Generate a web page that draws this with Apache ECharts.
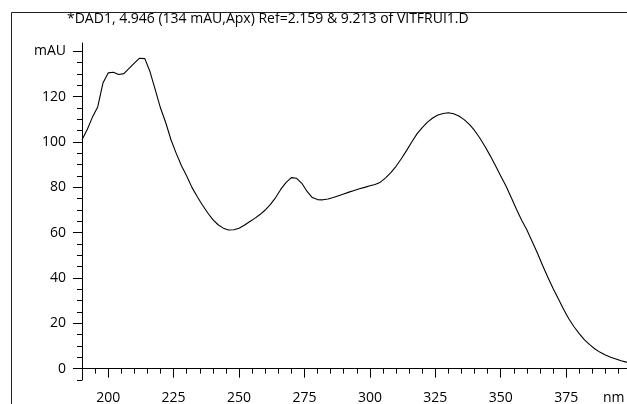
<!DOCTYPE html>
<html>
<head>
<meta charset="utf-8">
<script src="https://cdn.jsdelivr.net/npm/echarts/dist/echarts.min.js"></script>
<style>
  html, body { margin: 0; padding: 0; background: #fff; }
  #chart { width: 627px; height: 404px; }
</style>
</head>
<body>
<div id="chart"></div>
<script>
// UV spectrum at the apex of the 4.946 min peak (DAD1)
const wavelengths = [
  190, 192, 194, 196, 198, 200, 202, 204, 206, 208,
  210, 212, 214, 216, 218, 220, 222, 224, 226, 228,
  230, 232, 234, 236, 238, 240, 242, 244, 246, 248,
  250, 252, 254, 256, 258, 260, 262, 264, 266, 268,
  270, 272, 274, 276, 278, 280, 282, 284, 286, 288,
  290, 292, 294, 296, 298, 300, 302, 304, 306, 308,
  310, 312, 314, 316, 318, 320, 322, 324, 326, 328,
  330, 332, 334, 336, 338, 340, 342, 344, 346, 348,
  350, 352, 354, 356, 358, 360, 362, 364, 366, 368,
  370, 372, 374, 376, 378, 380, 382, 384, 386, 388,
  390, 392, 394, 396, 398, 400
];
const absorbance = [
  101.0, 105.5, 111.0, 115.5, 126.0, 130.5, 130.8, 129.8, 130.2, 132.5,
  134.8, 137.0, 136.8, 131.0, 123.0, 115.0, 108.5, 101.0, 95.0, 89.5,
  85.0, 80.0, 76.0, 72.2, 68.8, 65.8, 63.5, 62.0, 61.2, 61.3,
  62.0, 63.3, 64.8, 66.3, 68.0, 70.0, 72.5, 75.5, 79.2, 82.2,
  84.3, 84.0, 81.8, 78.2, 75.5, 74.6, 74.5, 74.9, 75.5, 76.3,
  77.1, 77.9, 78.6, 79.4, 80.0, 80.7, 81.3, 82.3, 84.2, 86.5,
  89.3, 92.6, 96.2, 100.0, 103.6, 106.4, 108.8, 110.6, 111.9, 112.6,
  112.9, 112.5, 111.5, 109.9, 107.8, 105.1, 101.8, 98.0, 93.9, 89.5,
  85.0, 80.6, 75.5, 70.3, 65.5, 61.2, 56.1, 51.0, 45.5, 40.3,
  35.4, 30.8, 26.2, 22.0, 18.5, 15.5, 12.7, 10.6, 8.7, 7.2,
  6.0, 5.0, 4.3, 3.5, 2.9, 2.4
];

// Axis ticks and labels
const xMajorTicks = [200, 225, 250, 275, 300, 325, 350, 375, 400];
const xLabelTicks = [200, 225, 250, 275, 300, 325, 350, 375];
const yMajorTicks = [0, 20, 40, 60, 80, 100, 120, 140];
const xMinorTicks = [];
for (let v = 190; v <= 400; v += 5) xMinorTicks.push(v);
const yMinorTicks = [];
for (let v = -5; v <= 140; v += 5) yMinorTicks.push(v);

const titleText = '*DAD1, 4.946 (134 mAU,Apx) Ref=2.159 & 9.213 of VITFRUI1.D';
const yUnit = 'mAU';
const xUnit = 'nm';

const FONT = '"Open Sans", "Noto Sans", sans-serif';
const INK = '#000';

const chart = echarts.init(document.getElementById('chart'), null, { renderer: 'canvas' });

const xBase = {
  type: 'value', min: 190, max: 400, position: 'bottom',
  splitLine: { show: false }
};
const yBase = {
  type: 'value', min: -5, max: 143.7, position: 'left',
  splitLine: { show: false }
};

chart.setOption({
  animation: false,
  backgroundColor: '#fff',
  grid: {
    left: 82, top: 43, right: -4.6, bottom: 24,
    containLabel: false, outerBoundsMode: 'none'
  },
  graphic: [
    {
      type: 'rect', silent: true, z: 0,
      shape: { x: 11.5, y: 12.5, width: 700, height: 500 },
      style: { fill: 'none', stroke: '#222', lineWidth: 1 }
    },
    {
      type: 'text', silent: true,
      x: 67, y: 12,
      style: { text: titleText, font: '14px ' + FONT, fill: INK }
    },
    {
      type: 'text', silent: true,
      x: 603, y: 391,
      style: { text: xUnit, font: '14px ' + FONT, fill: INK }
    }
  ],
  xAxis: [
    Object.assign({}, xBase, {
      axisLine: { show: true, lineStyle: { color: INK, width: 1 } },
      axisTick: { show: true, length: 9, customValues: xMajorTicks, lineStyle: { color: INK } },
      axisLabel: {
        show: true, customValues: xLabelTicks, margin: 11,
        color: INK, fontSize: 14, fontFamily: FONT
      }
    }),
    Object.assign({}, xBase, {
      axisLine: { show: false },
      axisTick: { show: true, length: 5, customValues: xMinorTicks, lineStyle: { color: INK } },
      axisLabel: { show: false }
    })
  ],
  yAxis: [
    Object.assign({}, yBase, {
      axisLine: { show: true, lineStyle: { color: INK, width: 1 } },
      axisTick: { show: true, length: 9, customValues: yMajorTicks, lineStyle: { color: INK } },
      axisLabel: {
        show: true, customValues: yMajorTicks, margin: 16,
        color: INK, fontSize: 14, fontFamily: FONT,
        formatter: v => (v === 140 ? yUnit : String(v))
      }
    }),
    Object.assign({}, yBase, {
      axisLine: { show: false },
      axisTick: { show: true, length: 5, customValues: yMinorTicks, lineStyle: { color: INK } },
      axisLabel: { show: false }
    })
  ],
  series: [{
    type: 'line',
    data: wavelengths.map((w, i) => [w, absorbance[i]]),
    showSymbol: false,
    smooth: false,
    clip: true,
    lineStyle: { color: INK, width: 1.1 }
  }]
});
</script>
</body>
</html>
